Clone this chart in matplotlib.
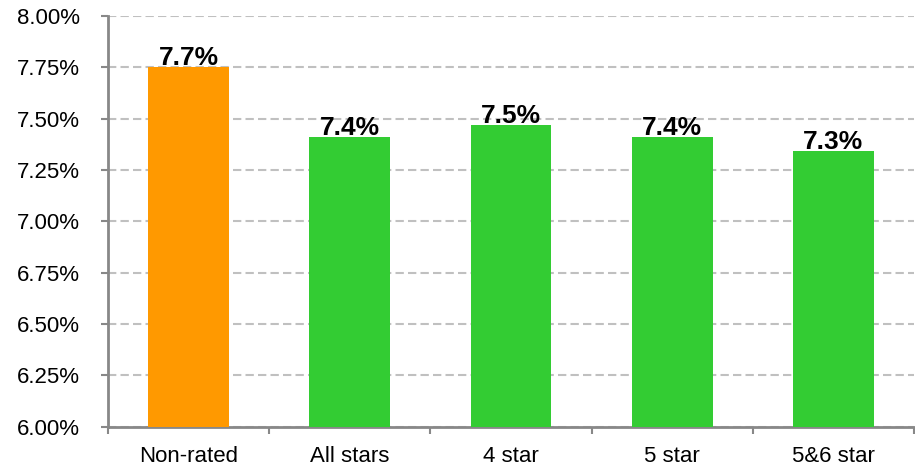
import matplotlib.pyplot as plt
import numpy as np
from matplotlib.ticker import FuncFormatter, FixedLocator

plt.rcParams['font.family'] = ['Liberation Sans', 'DejaVu Sans']

categories = ['Non-rated', 'All stars', '4 star', '5 star', '5&6 star']
values = [7.75, 7.41, 7.47, 7.41, 7.34]
labels = ['7.7%', '7.4%', '7.5%', '7.4%', '7.3%']
colors = ['#FF9900', '#33CC33', '#33CC33', '#33CC33', '#33CC33']

fig = plt.figure(figsize=(9.15, 4.67), dpi=100)
ax = fig.add_axes([0.118, 0.086, 0.881, 0.88])

x = np.arange(len(categories))
ax.bar(x, values, width=0.5, color=colors, zorder=3)

for xi, v, lab in zip(x, values, labels):
    ax.annotate(lab, (xi, v), xytext=(0, 1.5), textcoords='offset points',
                ha='center', va='baseline', fontsize=19, fontweight='bold', zorder=4)

ax.set_xlim(-0.5, len(categories) - 0.5)
ax.set_ylim(6.0, 8.0)
ax.set_yticks(np.arange(6.0, 8.01, 0.25))
ax.yaxis.set_major_formatter(FuncFormatter(lambda v, p: f'{v:.2f}%'))
ax.grid(axis='y', color='#c0c0c0', linestyle=(0, (4, 2)), linewidth=1.5, zorder=0)

ax.set_xticks(x)
ax.set_xticklabels(categories)
ax.xaxis.set_minor_locator(FixedLocator(np.arange(-0.5, len(categories), 1.0)))
ax.tick_params(axis='x', which='major', length=0, pad=14, labelsize=16)
ax.tick_params(axis='x', which='minor', length=5, width=1.5, color='#888888', direction='out')
ax.tick_params(axis='y', length=5, width=1.5, color='#888888', labelsize=16, pad=15)

for s in ['top', 'right']:
    ax.spines[s].set_visible(False)
for s in ['left', 'bottom']:
    ax.spines[s].set_color('#888888')
    ax.spines[s].set_linewidth(2)

fig.savefig('out.png', dpi=100)
